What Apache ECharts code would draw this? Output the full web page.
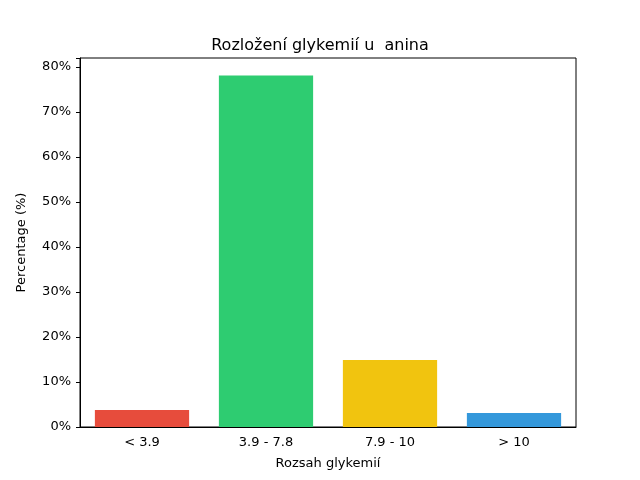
<!DOCTYPE html>
<html>
<head>
<meta charset="utf-8">
<script src="https://cdn.jsdelivr.net/npm/echarts@6/dist/echarts.min.js"></script>
<style>body{margin:0;background:#fff}#main{width:640px;height:480px}</style>
</head>
<body>
<div id="main"></div>
<script>
var categories = ['< 3.9', '3.9 - 7.8', '7.9 - 10', '> 10'];
var values = [3.8, 78.1, 14.9, 3.1];
var colors = ['#e74c3c', '#2ecc71', '#f1c40f', '#3498db'];

var font = 'DejaVu Sans';
var chart = echarts.init(document.getElementById('main'));
chart.setOption({
    animation: false,
    title: {
        text: 'Rozložení glykemií u  anina',
        left: 'center', top: 33,
        textStyle: {fontFamily: font, fontSize: 16, fontWeight: 'normal', color: '#000'}
    },
    grid: {left: 80, top: 58, width: 496, height: 369, show: true, borderColor: '#000', borderWidth: 1},
    xAxis: {
        type: 'category',
        data: categories,
        name: 'Rozsah glykemií', nameLocation: 'middle', nameGap: 30,
        nameTextStyle: {fontFamily: font, fontSize: 13, color: '#000'},
        axisLine: {lineStyle: {color: '#000'}},
        axisTick: {alignWithLabel: true, length: 4, lineStyle: {color: '#000'}},
        axisLabel: {fontFamily: font, fontSize: 13, color: '#000', margin: 9}
    },
    yAxis: {
        type: 'value', min: 0, max: 82, interval: 10,
        name: 'Percentage (%)', nameLocation: 'middle', nameGap: 52,
        nameTextStyle: {fontFamily: font, fontSize: 13, color: '#000'},
        axisLine: {show: true, lineStyle: {color: '#000'}},
        axisTick: {show: true, length: 4, lineStyle: {color: '#000'}},
        splitLine: {show: false},
        axisLabel: {fontFamily: font, fontSize: 13, color: '#000', margin: 9,
            formatter: function (v) { return v % 10 === 0 ? v + '%' : ''; }}
    },
    series: [{
        type: 'bar',
        barWidth: '76%',
        data: values.map(function (v, i) { return {value: v, itemStyle: {color: colors[i]}}; })
    }]
});
</script>
</body>
</html>
